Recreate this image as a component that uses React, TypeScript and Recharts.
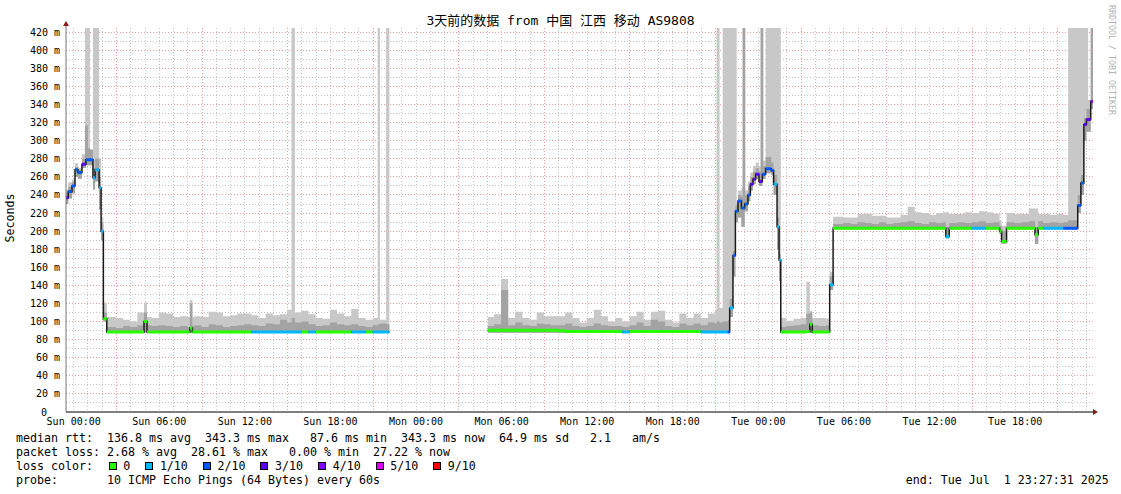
import { ComposedChart, Area, Line, XAxis, YAxis, CartesianGrid, ReferenceDot } from 'recharts';

const W = 1121;
const H = 494;
const MONO = '"DejaVu Sans Mono", "Noto Sans CJK SC", monospace';
const END_HOURS = 72; // graph spans Sat 23:27:31 .. Tue 23:27:31
const Y_MAX = 424.7;

// start of each step, hours after the graph start (null median = no data)
const hours = [
  0, 0.16, 0.42, 0.63, 0.84, 1.12, 1.33, 1.4, 1.54, 1.68, 1.89, 2.04, 2.32, 2.46, 2.62,
  2.86, 3.5, 4, 4.5, 5, 5.47, 5.68, 6, 6.5, 7, 7.5, 8, 8.5, 8.68, 8.86,
  9, 9.5, 10, 10.5, 11, 11.5, 12, 12.5, 13, 13.5, 14, 14.5, 15, 15.5, 15.81,
  16.05, 16.5, 17, 17.5, 18, 18.5, 19, 19.5, 20, 20.5, 21, 21.5, 21.85, 22.01, 22.44,
  22.67,
  29.57, 30, 30.5, 31, 31.5, 32, 32.5, 33, 33.5, 34, 34.5, 35, 35.5, 36, 36.5,
  37, 37.5, 38, 38.5, 39, 39.5, 40, 40.5, 41, 41.5, 42, 42.5, 43, 43.5, 44,
  44.5, 45, 45.5, 45.61, 45.82, 46.04, 46.4,
  46.53, 46.76, 46.93, 47.02, 47.11, 47.35, 47.44, 47.58, 47.62, 47.81, 47.98,
  48.16, 48.35, 48.58, 48.7, 48.82, 48.88, 49.05, 49.45, 49.61, 49.85, 49.99,
  50.11, 50.5, 51, 51.5, 51.9, 52.15, 52.32, 52.8, 53.3, 53.54,
  53.78, 54.5, 55, 55.5, 56, 56.5, 57, 57.5, 58, 58.5, 59, 59.5, 60, 60.5, 61,
  61.5, 61.68, 61.92, 62.5, 63, 63.5, 64, 64.5, 65, 65.45, 65.59, 65.94, 66.5, 67, 67.5,
  67.93, 68.16, 68.5, 69, 69.5, 69.93, 70.26, 70.93, 71.15, 71.36, 71.54, 71.66, 71.84,
];

// median rtt (ms)
const median = [
  237, 244, 250, 268, 265, 274, 274, 279, 279, 279, 259, 268, 248, 200, 103,
  88.5, 88.5, 88.5, 88.5, 88.5, 100, 88.5, 88.5, 88.5, 88.5, 88.5, 88.5, 88.5, 93, 88.5,
  88.5, 88.5, 88.5, 88.5, 88.5, 88.5, 88.5, 88.5, 88.5, 88.5, 88.5, 88.5, 88.5, 88.5, 88.5,
  88.5, 88.5, 88.5, 88.5, 88.5, 88.5, 88.5, 88.5, 88.5, 88.5, 88.5, 88.5, 88.5, 88.5, 88.5,
  null,
  90.5, 90.5, 90.5, 90.5, 90.5, 90.5, 90.5, 90.5, 90.5, 90.5, 90, 89, 89, 89, 89,
  89, 89, 89, 89, 88.5, 89, 89, 89, 89, 89, 89, 89, 89, 89, 89,
  88.5, 88.5, 88.5, 88.5, 88.5, 88.5, 88.5,
  115, 173, 222, 222, 233.5, 225.5, 225.5, 230, 230, 240, 252,
  257.5, 263, 255, 255, 263, 263, 269, 267, 252, 205, 168,
  88.4, 88.4, 88.4, 88.4, 88.9, 97, 88.4, 88.4, 88.4, 140.7,
  203.3, 203.3, 203.3, 203.3, 203.3, 203.3, 203.3, 203.3, 203.3, 203.3, 203.3, 203.3, 203.3, 203.3, 203.3,
  203.3, 194, 203.3, 203.3, 203.3, 203.3, 203.3, 203.3, 203.3, 200, 188.5, 203.3, 203.3, 203.3, 203.3,
  196, 203.3, 203.3, 203.3, 203.3, 203.3, 203.3, 228.5, 253.4, 318, 323.6, 323.6, 343.3,
];

// packet loss class, index into lossColors
const lossIdx = [
  3, 2, 2, 2, 2, 3, 3, 2, 2, 2, 1, 1, 1, 1, 0,
  0, 0, 0, 0, 0, 0, 0, 0, 0, 0, 0, 0, 0, 0, 0,
  0, 0, 0, 0, 0, 0, 0, 0, 1, 1, 1, 1, 1, 1, 1,
  1, 0, 1, 0, 0, 0, 0, 0, 1, 1, 0, 1, 1, 1, 1,
  0,
  0, 0, 0, 0, 0, 0, 0, 0, 0, 0, 0, 0, 0, 0, 0,
  0, 0, 0, 0, 1, 0, 0, 0, 0, 0, 0, 0, 0, 0, 0,
  1, 1, 1, 1, 1, 1, 2,
  1, 2, 2, 2, 2, 2, 2, 2, 2, 2, 3,
  3, 3, 3, 3, 2, 2, 2, 2, 1, 1, 1,
  0, 0, 0, 0, 0, 0, 0, 0, 0, 1,
  0, 0, 0, 0, 0, 0, 0, 0, 0, 0, 0, 0, 0, 0, 0,
  0, 1, 0, 0, 0, 1, 1, 0, 0, 0, 0, 0, 0, 0, 0,
  0, 0, 1, 1, 1, 2, 2, 2, 2, 3, 3, 3, 4,
];

// smoke: lowest ping, upper edge of the dense smoke, highest ping
const smokeLow = [
  230, 236, 242, 260, 258, 270, 270, 273, 273, 273, 246, 255, 224, 190, 100,
  87.6, 87.6, 87.6, 87.6, 87.6, 87.6, 87.6, 87.6, 87.6, 87.6, 87.6, 87.6, 87.6, 87.6, 87.6,
  87.6, 87.6, 87.6, 87.6, 87.6, 87.6, 87.6, 87.6, 87.6, 87.6, 87.6, 87.6, 87.6, 87.6, 87.6,
  87.6, 87.6, 87.6, 87.6, 87.6, 87.6, 87.6, 87.6, 87.6, 87.6, 87.6, 87.6, 87.6, 87.6, 87.6,
  null,
  87.6, 87.6, 87.6, 87.6, 87.6, 87.6, 87.6, 87.6, 87.6, 87.6, 87.6, 87.6, 87.6, 87.6, 87.6,
  87.6, 87.6, 87.6, 87.6, 87.6, 87.6, 87.6, 87.6, 87.6, 87.6, 87.6, 87.6, 87.6, 87.6, 87.6,
  87.6, 87.6, 87.6, 87.6, 87.6, 87.6, 87.6,
  105, 150, 210, 210, 215, 205, 205, 222, 222, 233, 245,
  252, 258, 250, 250, 258, 258, 264, 262, 240, 180, 145,
  87.6, 87.6, 87.6, 87.6, 87.6, 87.6, 87.6, 87.6, 87.6, 135,
  202, 202, 202, 202, 202, 202, 202, 202, 202, 202, 202, 202, 202, 202, 202,
  202, 192, 202, 202, 202, 202, 202, 202, 202, 197, 186, 202, 202, 202, 202,
  186, 202, 202, 202, 202, 202, 202, 220, 240, 300, 310, 310, 335,
];

const smokeMid = [
  243, 249, 254, 271, 268, 280, 317, 317, 292, 290, 270, 280, 260, 210, 110,
  94, 93, 95, 94, 96, 110, 96, 95, 96, 95, 94, 95, 94, 120, 95,
  96, 94, 97, 96, 94, 95, 96, 97, 96, 95, 98, 97, 102, 99, 104,
  99, 100, 97, 95, 96, 99, 97, 96, 97, 95, 94, 96, 97, 98, 97,
  null,
  95, 97, 135, 96, 99, 96, 95, 98, 97, 96, 96, 98, 95, 94, 95,
  98, 96, 95, 95, 94, 96, 99, 95, 102, 100, 95, 94, 98, 96, 98,
  96, 99, 98, 100, 99, 100, 102,
  125, 178, 228, 228, 240, 238, 430, 430, 240, 250, 260,
  266, 270, 266, 430, 430, 272, 282, 276, 262, 215, 175,
  94, 95, 96, 97, 109, 110, 96, 95, 96, 150,
  208, 209, 208, 210, 209, 208, 210, 208, 209, 210, 211, 209, 208, 210, 209,
  210, 205, 209, 210, 209, 210, 211, 209, 210, 206, 200, 210, 209, 210, 211,
  205, 211, 209, 210, 209, 210, 212, 240, 262, 325, 335, 335, 430,
];

const smokeHigh = [
  246, 254, 257, 275, 270, 285, 430, 430, 430, 290, 430, 430, 281, 216, 121,
  105, 104, 102, 100, 110, 121, 105, 104, 110, 109, 105, 106, 105, 124, 105,
  106, 105, 111, 110, 106, 107, 109, 109, 107, 104, 109, 107, 108, 113, 430,
  110, 112, 108, 104, 103, 113, 109, 106, 114, 104, 102, 104, 430, 102, 430,
  null,
  105, 108, 147, 104, 111, 104, 102, 110, 106, 106, 106, 110, 104, 99, 104,
  113, 106, 100, 104, 100, 106, 111, 102, 111, 112, 102, 99, 109, 104, 109,
  104, 109, 113, 430, 115, 430, 430,
  430, 430, 430, 232, 245, 248, 430, 430, 245, 255, 265,
  272, 276, 272, 430, 430, 278, 430, 430, 430, 430, 430,
  104, 101, 103, 104, 144, 112, 104, 104, 103, 155,
  216, 215, 215, 219, 219, 217, 217, 215, 215, 218, 227, 221, 220, 218, 220,
  221, 221, 219, 219, 221, 220, 222, 221, 219, 212, 206, 220, 219, 219, 225,
  225, 219, 219, 218, 219, 218, 430, 430, 430, 430, 430, 345, 430,
];

const lossColors = ['#26ff00', '#00b8ff', '#0059ff', '#5e00ff', '#7e00ff', '#dd00ff', '#ff0000'];
const lossLabels = ['0', '1/10', '2/10', '3/10', '4/10', '5/10', '9/10'];

const tickHours = [0.54, 6.54, 12.54, 18.54, 24.54, 30.54, 36.54, 42.54, 48.54, 54.54, 60.54, 66.54];
const tickLabels = [
  'Sun 00:00', 'Sun 06:00', 'Sun 12:00', 'Sun 18:00',
  'Mon 00:00', 'Mon 06:00', 'Mon 12:00', 'Mon 18:00',
  'Tue 00:00', 'Tue 06:00', 'Tue 12:00', 'Tue 18:00',
];
const yTicks = [0, 20, 40, 60, 80, 100, 120, 140, 160, 180, 200, 220, 240, 260, 280, 300, 320, 340, 360, 380, 400, 420];

// grid: hourly minor lines, major every 6h (offset 3h); 10ms minor / 20ms major
const minorHours = Array.from({ length: 72 }, (_, k) => 0.54 + k);
const majorHours = Array.from({ length: 12 }, (_, k) => 3.54 + 6 * k);
const minorMs = Array.from({ length: 42 }, (_, k) => 10 + 10 * k);
const majorMs = yTicks.filter((v) => v > 0);

// each step -> start row, end row, and a row that breaks the coloured median
const rows: any[] = [];
hours.forEach((h, i) => {
  const end = i + 1 < hours.length ? hours[i + 1] : END_HOURS;
  const m = median[i];
  const base: any = {
    med: m,
    light: m == null ? null : [smokeLow[i], smokeHigh[i]],
    dark: m == null ? null : [smokeLow[i], smokeMid[i]],
  };
  const bands: any = {};
  lossColors.forEach((_, L) => {
    bands['b' + L] = m != null && lossIdx[i] === L ? m : null;
  });
  rows.push({ h, ...base, ...bands }, { h: end, ...base, ...bands }, { h: end, ...base });
});

function XTick({ x, y, payload }: any) {
  const idx = tickHours.indexOf(payload.value);
  return (
    <text x={x} y={y} dy={7} textAnchor="middle" fontFamily={MONO} fontSize={10} fill="#000">
      {tickLabels[idx]}
    </text>
  );
}

function YTick({ x, y, payload }: any) {
  const v = payload.value;
  return (
    <text x={v === 0 ? x - 13 : x} y={y} dy={3.5} textAnchor="end" fontFamily={MONO} fontSize={10} fill="#000">
      {v === 0 ? '0' : `${v} m`}
    </text>
  );
}

const upArrow = ({ cx, cy }: any) => (
  <g>
    <line x1={cx} y1={cy} x2={cx} y2={cy - 3} stroke="#777" />
    <polygon points={`${cx - 3},${cy - 2} ${cx + 3},${cy - 2} ${cx},${cy - 7}`} fill="#8b1a1a" />
  </g>
);

const rightArrow = ({ cx, cy }: any) => (
  <polygon points={`${cx},${cy - 3} ${cx},${cy + 3} ${cx + 5},${cy}`} fill="#8b1a1a" />
);

const legendLine = { position: 'absolute' as const, left: 16, fontSize: 11.63, lineHeight: '14px', whiteSpace: 'pre' as const };

export default function App() {
  return (
    <div style={{ position: 'relative', width: W, height: H, background: '#fff', fontFamily: MONO, color: '#000' }}>
      <style>{`body{margin:0} .recharts-cartesian-grid line{shape-rendering:crispEdges}`}</style>
      <ComposedChart width={W} height={H} data={rows} margin={{ top: 28, right: 28, bottom: 52, left: 10 }}>
        <CartesianGrid stroke="#c4c4c4" strokeDasharray="1 2" verticalValues={minorHours} horizontalValues={minorMs} />
        <CartesianGrid stroke="#ee9a9a" strokeDasharray="1 2" verticalValues={majorHours} horizontalValues={majorMs} />
        <XAxis
          type="number"
          dataKey="h"
          domain={[0, END_HOURS]}
          ticks={tickHours}
          interval={0}
          tick={XTick}
          tickLine={false}
          tickSize={3}
          tickMargin={3}
          axisLine={{ stroke: '#000' }}
          allowDataOverflow
        />
        <YAxis
          type="number"
          domain={[0, Y_MAX]}
          ticks={yTicks}
          interval={0}
          width={56}
          tick={YTick}
          tickLine={false}
          tickSize={3}
          tickMargin={3}
          axisLine={{ stroke: '#777' }}
          allowDataOverflow
        />
        <Area type="linear" dataKey="light" stroke="none" fill="#c8c8c8" fillOpacity={1} isAnimationActive={false} />
        <Area type="linear" dataKey="dark" stroke="none" fill="#a3a3a3" fillOpacity={1} isAnimationActive={false} />
        <Line type="linear" dataKey="med" stroke="#1a1a1a" strokeWidth={1.5} dot={false} isAnimationActive={false} />
        {lossColors.map((c, i) => (
          <Line key={c} type="linear" dataKey={'b' + i} stroke={c} strokeWidth={3} dot={false} isAnimationActive={false} />
        ))}
        <ReferenceDot x={0} y={Y_MAX} shape={upArrow} ifOverflow="visible" />
        <ReferenceDot x={END_HOURS} y={0} shape={rightArrow} ifOverflow="visible" />
      </ComposedChart>

      <div style={{ position: 'absolute', left: 0, top: 13, width: W, textAlign: 'center', fontSize: 13, lineHeight: '16px' }}>
        3天前的数据 from 中国 江西 移动 AS9808
      </div>
      <div
        style={{
          position: 'absolute', left: -40, top: 211, width: 100, textAlign: 'center',
          fontSize: 11.63, lineHeight: '14px', transform: 'rotate(-90deg)',
        }}
      >
        Seconds
      </div>
      <div
        style={{
          position: 'absolute', left: 1117, top: 5, fontSize: 8.3, lineHeight: '10px', color: '#b4b4b4',
          whiteSpace: 'nowrap', transform: 'rotate(90deg)', transformOrigin: '0 0',
        }}
      >
        RRDTOOL / TOBI OETIKER
      </div>

      <div style={{ ...legendLine, top: 431 }}>
        {'median rtt:  136.8 ms avg  343.3 ms max   87.6 ms min  343.3 ms now  64.9 ms sd   2.1   am/s'}
      </div>
      <div style={{ ...legendLine, top: 445 }}>
        {'packet loss: 2.68 % avg  28.61 % max   0.00 % min  27.22 % now'}
      </div>
      <div style={{ ...legendLine, top: 459 }}>{'loss color:'}</div>
      <div style={{ position: 'absolute', left: 108.7, top: 459, height: 14, display: 'flex', alignItems: 'center', fontSize: 11.63, whiteSpace: 'pre' }}>
        {lossColors.map((c, i) => (
          <span key={c} style={{ display: 'inline-flex', alignItems: 'center', marginRight: 15 }}>
            <span style={{ display: 'inline-block', width: 6, height: 6, border: '1px solid #000', background: c, marginRight: 6.6 }} />
            <span style={{ lineHeight: '14px' }}>{lossLabels[i]}</span>
          </span>
        ))}
      </div>
      <div style={{ ...legendLine, top: 473 }}>
        {'probe:       10 ICMP Echo Pings (64 Bytes) every 60s'}
      </div>
      <div style={{ ...legendLine, left: 905.8, top: 473 }}>
        {'end: Tue Jul  1 23:27:31 2025'}
      </div>
    </div>
  );
}
